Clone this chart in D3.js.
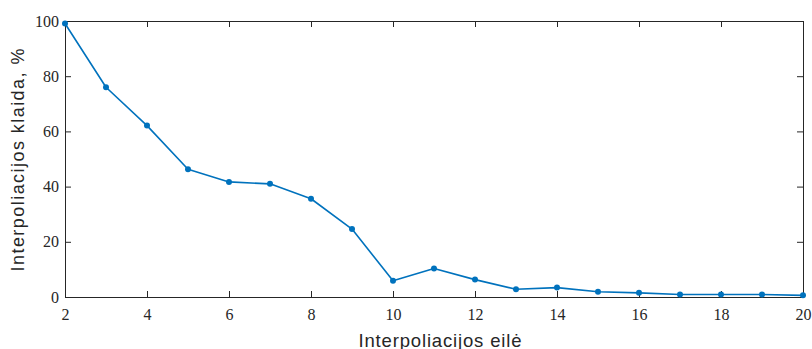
<!DOCTYPE html>
<html>
<head>
<meta charset="utf-8">
<script src="https://cdn.jsdelivr.net/npm/d3@7"></script>
<style>
  html, body { margin: 0; padding: 0; background: #fff; }
  svg { display: block; }
</style>
</head>
<body>
<svg id="chart" width="812" height="349"></svg>
<script>
// Interpolation order vs. interpolation error (%)
const orders = [2, 3, 4, 5, 6, 7, 8, 9, 10, 11, 12, 13, 14, 15, 16, 17, 18, 19, 20];
const errors = [99.1, 76.0, 62.1, 46.3, 41.7, 41.0, 35.6, 24.6, 5.9, 10.3, 6.3, 2.8, 3.4, 1.9, 1.5, 0.9, 0.9, 0.9, 0.6];
const xTicks = [2, 4, 6, 8, 10, 12, 14, 16, 18, 20];
const yTicks = [0, 20, 40, 60, 80, 100];
const xLabel = "Interpoliacijos eilė";
const yLabel = "Interpoliacijos klaida, %";

const svg = d3.select("#chart");
const m = { left: 65, right: 803, top: 21, bottom: 297 };
const axisColor = "#262626";
const lineColor = "#0072BD";

const x = d3.scaleLinear().domain([2, 20]).range([m.left, m.right]);
const y = d3.scaleLinear().domain([0, 100]).range([m.bottom, m.top]);
const tickLen = 6;
const tickFont = "'Liberation Serif', 'DejaVu Serif', serif";

// bottom axis (ticks pointing inward)
const gx = svg.append("g").attr("transform", `translate(0,${m.bottom})`)
  .call(d3.axisBottom(x).tickValues(xTicks).tickSizeInner(-tickLen).tickSizeOuter(0).tickPadding(12));
// left axis
const gy = svg.append("g").attr("transform", `translate(${m.left},0)`)
  .call(d3.axisLeft(y).tickValues(yTicks).tickSizeInner(-tickLen).tickSizeOuter(0).tickPadding(6));
// top and right mirrored ticks, no labels
const gt = svg.append("g").attr("transform", `translate(0,${m.top})`)
  .call(d3.axisTop(x).tickValues(xTicks).tickSizeInner(-tickLen).tickSizeOuter(0).tickFormat(""));
const gr = svg.append("g").attr("transform", `translate(${m.right},0)`)
  .call(d3.axisRight(y).tickValues(yTicks).tickSizeInner(-tickLen).tickSizeOuter(0).tickFormat(""));

[gx, gy, gt, gr].forEach(g => {
  g.select(".domain").attr("stroke", axisColor).attr("stroke-width", 1);
  g.selectAll(".tick line").attr("stroke", axisColor).attr("stroke-width", 1);
  g.selectAll(".tick text")
    .attr("fill", axisColor)
    .style("font-family", tickFont)
    .style("font-size", "16px");
});

// data line and markers
const line = d3.line().x((d, i) => x(orders[i])).y(d => y(d));
svg.append("path")
  .datum(errors)
  .attr("fill", "none")
  .attr("stroke", lineColor)
  .attr("stroke-width", 1.6)
  .attr("stroke-linejoin", "round")
  .attr("d", line);

svg.append("g").selectAll("circle")
  .data(errors)
  .join("circle")
  .attr("cx", (d, i) => x(orders[i]))
  .attr("cy", d => y(d))
  .attr("r", 3)
  .attr("fill", lineColor);

// axis labels
const labelFont = "'Liberation Sans', Arial, sans-serif";
svg.append("text")
  .attr("x", 440)
  .attr("y", 346.5)
  .attr("text-anchor", "middle")
  .attr("fill", axisColor)
  .attr("textLength", 163)
  .attr("lengthAdjust", "spacing")
  .style("font-family", labelFont)
  .style("font-size", "18.5px")
  .text(xLabel);

svg.append("text")
  .attr("transform", `translate(24,160) rotate(-90)`)
  .attr("text-anchor", "middle")
  .attr("fill", axisColor)
  .attr("textLength", 223)
  .attr("lengthAdjust", "spacing")
  .style("font-family", labelFont)
  .style("font-size", "18px")
  .text(yLabel);
</script>
</body>
</html>
